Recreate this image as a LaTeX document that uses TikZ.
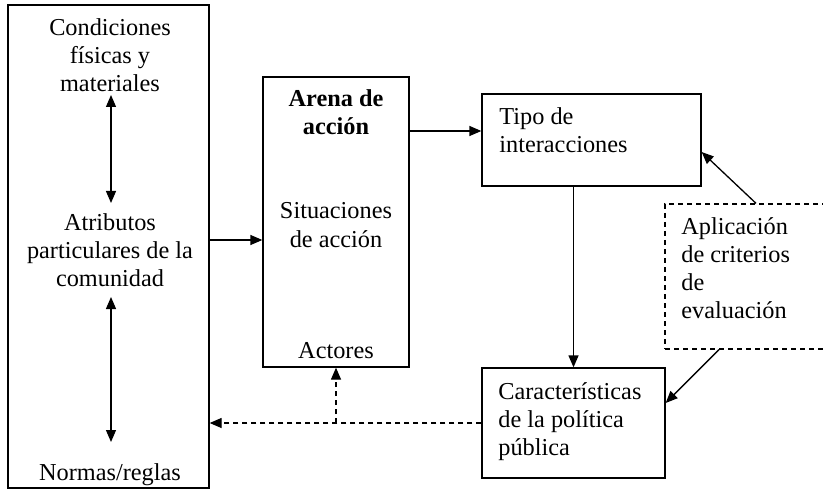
\documentclass[tikz,border=0pt]{standalone}
\usepackage{fontspec}
\setmainfont{Liberation Serif}
\usetikzlibrary{arrows.meta,calc}
\begin{document}
\begin{tikzpicture}[x=0.5pt,y=-0.5pt,
  box/.style={draw, line width=0.65pt, inner sep=0pt},
  dbox/.style={box, dash pattern=on 2.5pt off 2pt},
  txt/.style={font=\fontsize{12.15}{14}\selectfont, inner sep=0pt, anchor=base},
  tip/.style={},
  arr/.style={-{Triangle[length=6pt,width=5pt]}, line width=0.65pt},
  darr/.style={arr, dash pattern=on 2.5pt off 2pt},
  dbl/.style={{Triangle[length=6pt,width=5pt]}-{Triangle[length=6pt,width=5pt]}, line width=0.65pt}]
\clip (0,0) rectangle (823,497);
% boxes
\node[box, minimum width=100.5pt, minimum height=241.5pt] (L) at (108.5,246.5) {};
\node[box, minimum width=73pt, minimum height=145pt] (A) at (336,222) {};
\node[box, minimum width=109.5pt, minimum height=46pt] (T) at (591.5,140) {};
\node[box, minimum width=91.5pt, minimum height=55pt] (C) at (573.5,423) {};
\node[dbox, minimum width=87.5pt, minimum height=72.5pt] (P) at (752.5,276.5) {};
% texts (base anchor = baseline of last line)
\node[txt, align=center] (cond) at (110,92) {Condiciones\\físicas y\\materiales};
\node[txt, align=center] (atr) at (110,286) {Atributos\\particulares de la\\comunidad};
\node[txt] (norm) at (110,480) {Normas/reglas};
\node[txt, align=center, font=\fontsize{12.15}{14}\selectfont\bfseries] (arena) at (336,135) {Arena de\\acción};
\node[txt, align=center] (sit) at (336,247) {Situaciones\\de acción};
\node[txt] (act) at (336,358) {Actores};
\node[txt, align=left, anchor=base west] (tipo) at (499,153) {Tipo de\\interacciones};
\node[txt, align=left, anchor=base west] (car) at (498,455) {Características\\de la política\\pública};
\node[txt, align=left, anchor=base west] (apl) at (681,318) {Aplicación\\de criterios\\de\\evaluación};
% reference coordinates
\coordinate (a1) at (111,95);
\coordinate (a2) at (111,203);
\coordinate (a3) at (111,297);
\coordinate (a4) at (111,442);
\coordinate (y240) at (0,240);
\coordinate (y131) at (0,131);
\coordinate (pt) at (756,0);
\coordinate (pb) at (719,0);
\coordinate (y152) at (0,152);
\coordinate (y403) at (0,403);
% connectors
\draw[dbl] (a1) -- (a2);
\draw[dbl] (a3) -- (a4);
\draw[arr] (L.east |- y240) -- (A.west |- y240);
\draw[arr] (A.east |- y131) -- (T.west |- y131);
\draw[arr] (C.north |- T.south) -- (C.north);
\draw[arr] (P.north -| pt) -- (T.east |- y152);
\draw[arr] (P.south -| pb) -- (C.east |- y403);
\draw[darr] (C.west) -- (L.east |- C.west);
\draw[darr] (A.south |- C.west) -- (A.south);
\end{tikzpicture}
\end{document}
